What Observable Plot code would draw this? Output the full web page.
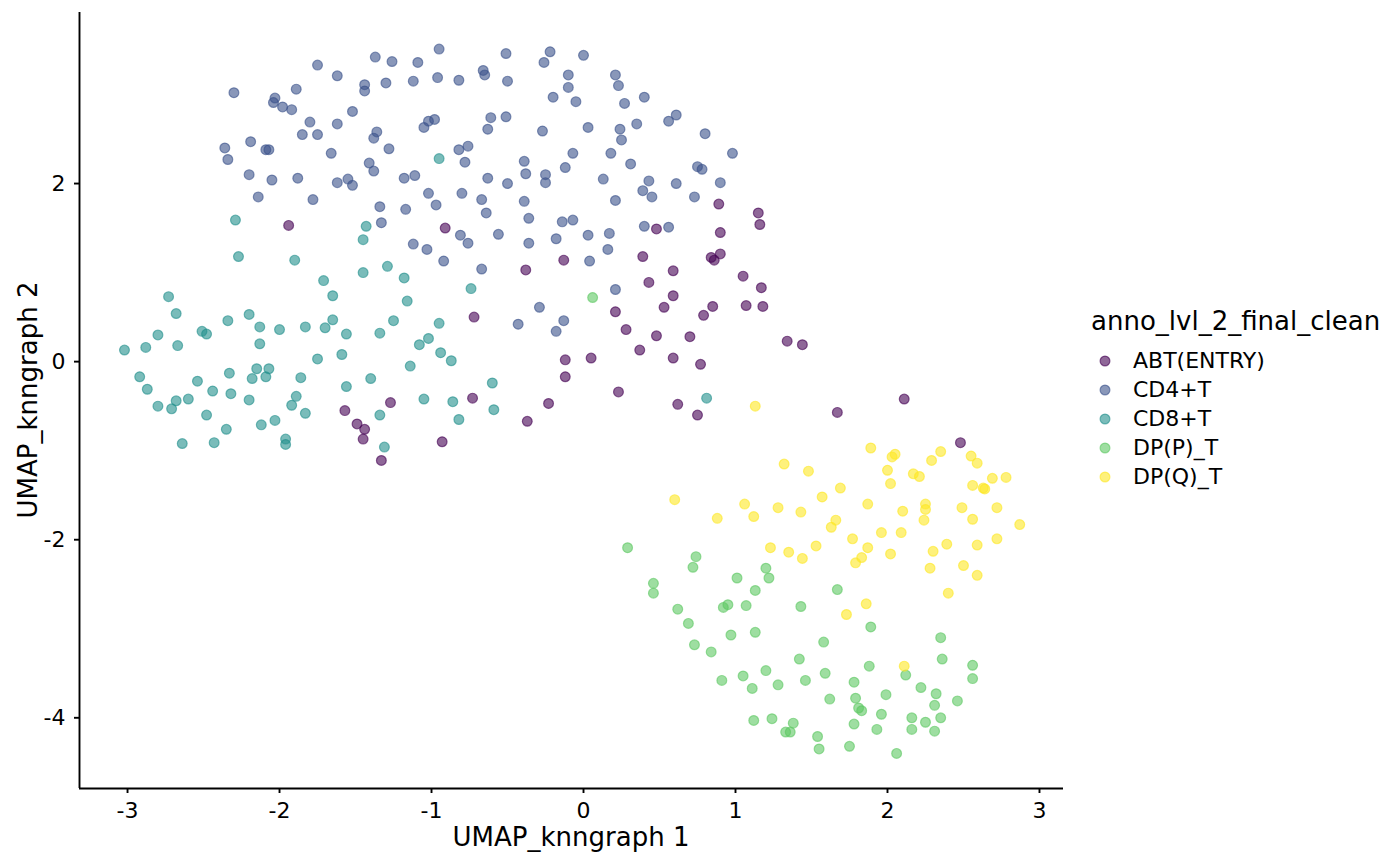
<!DOCTYPE html>
<html>
<head>
<meta charset="utf-8">
<script src="https://cdn.jsdelivr.net/npm/d3@7"></script>
<script src="https://cdn.jsdelivr.net/npm/@observablehq/plot@0.6"></script>
<style>
  body { margin: 0; background: #fff; font-family: "DejaVu Sans", sans-serif; color: #000; }
  #wrap { position: relative; width: 1400px; height: 865px; }
  #chart { position: absolute; left: 0; top: 0; }
  .axtitle { position: absolute; font-size: 26px; line-height: 26px; white-space: nowrap; }
  #xtitle { left: 571px; top: 824px; transform: translateX(-50%); }
  #ytitle { left: 28px; top: 400px; transform: translate(-50%, -50%) rotate(-90deg); }
  #legend { position: absolute; left: 1091px; top: 308px; }
  #legend .ttl { font-size: 26px; line-height: 26px; margin-bottom: 12px; white-space: nowrap; }
  #legend .row { display: flex; align-items: center; height: 29px; font-size: 22px; }
  #legend svg { margin-left: 7px; margin-right: 21px; }
</style>
</head>
<body>
<div id="wrap">
  <div id="chart"></div>
  <div class="axtitle" id="xtitle">UMAP_knngraph 1</div>
  <div class="axtitle" id="ytitle">UMAP_knngraph 2</div>
  <div id="legend"></div>
</div>
<script>
// clusters
const categories = ["ABT(ENTRY)", "CD4+T", "CD8+T", "DP(P)_T", "DP(Q)_T"];
const colors = ["#440154", "#3B528B", "#21908C", "#5DC863", "#FDE725"];
const xTicks = [-3, -2, -1, 0, 1, 2, 3];
const yTicks = [-4, -2, 0, 2];

const abtPts = [[-1.94,1.53],[-0.91,1.50],[0.48,1.49],[0.89,1.77],[0.90,1.45],[0.90,1.21],[0.84,1.17],[0.86,1.14],[-0.13,1.14],[0.39,1.18],[1.15,1.67],[1.16,1.54],[-0.38,1.03],[0.59,1.02],[1.05,0.96],[1.07,0.63],[0.43,0.89],[0.59,0.74],[0.53,0.61],[0.85,0.62],[0.79,0.52],[0.21,0.56],[-0.72,0.50],[0.28,0.36],[0.48,0.29],[0.70,0.28],[0.37,0.13],[0.59,0.04],[0.77,-0.03],[-0.12,0.02],[0.05,0.04],[-0.12,-0.17],[-0.73,-0.41],[-0.23,-0.47],[-0.37,-0.67],[-0.93,-0.90],[0.23,-0.34],[0.62,-0.48],[0.75,-0.60],[1.17,0.83],[1.18,0.62],[1.34,0.23],[1.44,0.19],[2.11,-0.42],[1.67,-0.57],[2.48,-0.91],[-1.57,-0.55],[-1.27,-0.46],[-1.49,-0.70],[-1.44,-0.76],[-1.45,-0.87],[-1.33,-1.11]];

const cd4Pts = [[-1.37,3.42],[-1.26,3.37],[-1.09,3.36],[-1.75,3.33],[-1.62,3.21],[-1.44,3.11],[-1.44,3.04],[-1.30,3.13],[-1.12,3.15],[-2.30,3.02],[-1.89,3.06],[-2.03,2.96],[-2.04,2.91],[-1.98,2.86],[-1.92,2.83],[-1.52,2.81],[-1.80,2.69],[-1.62,2.67],[-1.02,2.70],[-1.05,2.63],[-1.36,2.58],[-1.38,2.51],[-1.85,2.55],[-1.75,2.55],[-2.36,2.40],[-2.34,2.27],[-2.19,2.47],[-2.09,2.38],[-2.07,2.38],[-1.66,2.34],[-1.28,2.39],[-1.41,2.23],[-1.38,2.14],[-2.20,2.10],[-2.05,2.04],[-1.88,2.06],[-1.62,2.01],[-1.55,2.05],[-1.52,1.98],[-1.18,2.06],[-1.11,2.09],[-1.02,1.89],[-2.14,1.85],[-1.78,1.82],[-1.34,1.74],[-1.17,1.71],[-1.33,1.56],[-1.12,1.32],[-1.03,1.26],
  [-0.95,3.51],[-0.51,3.46],[-0.22,3.48],[-0.26,3.36],[0.00,3.44],[-0.96,3.19],[-0.82,3.16],[-0.66,3.27],[-0.65,3.22],[-0.50,3.15],[-0.10,3.22],[-0.10,3.08],[0.21,3.22],[0.23,3.10],[-0.20,2.97],[-0.05,2.92],[0.27,2.90],[0.40,2.97],[-0.98,2.72],[-0.61,2.74],[-0.51,2.75],[-0.63,2.61],[-0.27,2.59],[0.03,2.63],[0.24,2.61],[0.25,2.49],[0.35,2.67],[0.56,2.70],[0.61,2.77],[0.80,2.56],[0.98,2.34],[-0.82,2.38],[-0.76,2.42],[-0.78,2.24],[-0.39,2.25],[-0.38,2.11],[-0.25,2.10],[-0.25,2.01],[-0.07,2.34],[-0.12,2.18],[0.18,2.34],[0.31,2.22],[0.13,2.05],[0.75,2.19],[0.78,2.16],[0.43,2.03],[0.39,1.92],[0.45,1.85],[0.61,2.00],[0.90,2.01],[0.73,1.85],[0.21,1.81],[-0.63,2.06],[-0.50,2.00],[-0.80,1.89],[-0.97,1.76],[-0.67,1.82],[-0.39,1.80],[-0.64,1.67],[-0.36,1.61],[-0.14,1.57],[-0.07,1.59],[-0.81,1.42],[-0.76,1.33],[-0.56,1.43],[-0.36,1.33],[-0.18,1.38],[0.03,1.42],[0.17,1.44],[0.16,1.26],[0.40,1.52],[0.56,1.51],[-0.92,1.13],[0.04,1.13],[-0.67,1.04],[0.21,0.81],[-0.29,0.61],[-0.43,0.42],[-0.13,0.46],[-0.18,0.34]];

const cd8Pts = [[-2.29,1.59],[-1.43,1.52],[-1.45,1.37],[-2.27,1.18],[-1.90,1.14],[-0.95,2.28],[-1.45,1.00],[-1.29,1.07],[-1.18,0.94],[-1.71,0.91],[-1.65,0.74],[-1.16,0.68],[-2.73,0.73],[-2.68,0.54],[-2.34,0.46],[-2.20,0.53],[-2.13,0.39],[-2.00,0.36],[-1.83,0.39],[-1.70,0.38],[-1.65,0.47],[-1.25,0.46],[-1.56,0.31],[-1.34,0.32],[-1.02,0.26],[-1.08,0.19],[-2.80,0.30],[-2.88,0.16],[-3.02,0.13],[-2.67,0.18],[-2.51,0.34],[-2.48,0.31],[-2.13,0.20],[-1.75,0.03],[-1.59,0.08],[-1.14,-0.05],[-2.92,-0.17],[-2.87,-0.31],[-2.80,-0.50],[-2.71,-0.53],[-2.68,-0.44],[-2.60,-0.42],[-2.54,-0.22],[-2.44,-0.33],[-2.33,-0.13],[-2.32,-0.36],[-2.20,-0.43],[-2.15,-0.08],[-2.07,-0.08],[-2.09,-0.17],[-2.18,-0.19],[-1.86,-0.18],[-1.89,-0.39],[-1.92,-0.49],[-1.83,-0.58],[-1.56,-0.28],[-1.40,-0.19],[-1.05,-0.42],[-2.48,-0.60],[-2.35,-0.76],[-2.12,-0.71],[-2.03,-0.66],[-1.96,-0.87],[-1.96,-0.93],[-2.64,-0.92],[-2.43,-0.91],[-1.34,-0.60],[-1.31,-0.96],[-0.74,0.82],[-0.95,0.43],[-0.94,0.10],[-0.87,0.01],[-0.60,-0.24],[-0.86,-0.45],[-0.59,-0.54],[-0.82,-0.65],[0.81,-0.41]];

const dppPts = [[0.06,0.72],[0.29,-2.09],[0.74,-2.19],[0.72,-2.31],[0.46,-2.49],[0.46,-2.60],[1.01,-2.43],[1.20,-2.32],[1.22,-2.43],[1.13,-2.57],[0.62,-2.78],[0.92,-2.76],[0.95,-2.73],[1.07,-2.74],[1.43,-2.75],[0.69,-2.94],[0.97,-3.07],[1.13,-3.04],[0.73,-3.18],[0.84,-3.26],[1.58,-3.15],[1.42,-3.34],[0.91,-3.58],[1.05,-3.53],[1.20,-3.47],[1.11,-3.67],[1.28,-3.63],[1.46,-3.58],[1.59,-3.50],[1.62,-3.79],[1.12,-4.03],[1.24,-4.01],[1.38,-4.06],[1.33,-4.16],[1.36,-4.16],[1.54,-4.21],[1.55,-4.35],[1.67,-2.56],[1.89,-2.98],[2.35,-3.10],[2.36,-3.34],[2.56,-3.41],[2.56,-3.56],[1.88,-3.42],[2.12,-3.52],[1.78,-3.60],[2.22,-3.66],[2.32,-3.73],[2.46,-3.81],[2.31,-3.86],[1.79,-3.78],[1.99,-3.74],[1.81,-3.89],[1.83,-3.92],[1.96,-3.96],[2.16,-4.00],[2.35,-4.00],[2.25,-4.05],[1.78,-4.07],[1.93,-4.13],[2.16,-4.13],[2.31,-4.15],[1.75,-4.32],[2.06,-4.40]];

const dpqPts = [[1.13,-0.50],[1.89,-0.97],[2.03,-1.07],[2.05,-1.04],[2.35,-1.01],[2.29,-1.11],[2.55,-1.06],[2.59,-1.14],[1.32,-1.15],[1.48,-1.23],[2.00,-1.22],[2.17,-1.26],[2.21,-1.29],[2.69,-1.31],[2.78,-1.30],[0.60,-1.55],[1.06,-1.60],[0.88,-1.76],[1.12,-1.74],[1.28,-1.64],[1.43,-1.69],[1.57,-1.52],[1.63,-1.86],[1.66,-1.78],[1.23,-2.09],[1.35,-2.14],[1.44,-2.21],[1.53,-2.07],[2.02,-1.37],[2.56,-1.39],[2.63,-1.42],[2.64,-1.43],[1.69,-1.42],[1.87,-1.60],[2.10,-1.68],[2.25,-1.60],[2.25,-1.66],[2.24,-1.78],[2.49,-1.64],[2.56,-1.77],[2.72,-1.64],[2.87,-1.83],[1.96,-1.92],[2.09,-1.92],[1.77,-1.99],[1.87,-2.09],[1.83,-2.20],[1.79,-2.26],[2.02,-2.16],[2.30,-2.13],[2.39,-2.05],[2.59,-2.06],[2.72,-1.99],[2.28,-2.32],[2.50,-2.29],[2.59,-2.40],[2.40,-2.60],[1.86,-2.72],[1.73,-2.84],[2.11,-3.42]];

const groups = [abtPts, cd4Pts, cd8Pts, dppPts, dpqPts];
const cells = groups.flatMap((pts, i) => pts.map(([x, y]) => ({x, y, cluster: categories[i]})));

const xDomain = [-3.316, 3.158];
const yDomain = [-4.794, 3.921];

const plot = Plot.plot({
    width: 1400,
    height: 865,
    marginLeft: 79,
    marginRight: 337,
    marginTop: 12,
    marginBottom: 77,
    style: {fontFamily: "DejaVu Sans", color: "#000", background: "#fff"},
    x: {domain: xDomain},
    y: {domain: yDomain},
    color: {domain: categories, range: colors},
    marks: [
        Plot.axisX({ticks: xTicks, tickFormat: d => String(d), tickSize: 5, tickPadding: 9,
            strokeWidth: 1.9, fontSize: 22, label: null}),
        Plot.axisY({ticks: yTicks, tickFormat: d => String(d), tickSize: 5, tickPadding: 9,
            strokeWidth: 1.9, fontSize: 22, label: null}),
        Plot.ruleX([xDomain[0]], {stroke: "#000", strokeWidth: 1.9}),
        Plot.ruleY([yDomain[0]], {stroke: "#000", strokeWidth: 1.9}),
        Plot.dot(cells, {
            x: "x", y: "y", r: 4.9,
            fill: "cluster", fillOpacity: 0.6,
            stroke: "cluster", strokeOpacity: 0.6, strokeWidth: 1.2
        })
    ]
});
document.getElementById("chart").appendChild(plot);

// légende à la main, à droite
const legend = d3.select("#legend");
legend.append("div").attr("class", "ttl").text("anno_lvl_2_final_clean");
categories.forEach((c, i) => {
    const row = legend.append("div").attr("class", "row");
    const svg = row.append("svg").attr("width", 14).attr("height", 14);
    svg.append("circle").attr("cx", 7).attr("cy", 7).attr("r", 4.9)
        .attr("fill", colors[i]).attr("fill-opacity", 0.6)
        .attr("stroke", colors[i]).attr("stroke-opacity", 0.6).attr("stroke-width", 1.2);
    row.append("span").text(c);
});
</script>
</body>
</html>
